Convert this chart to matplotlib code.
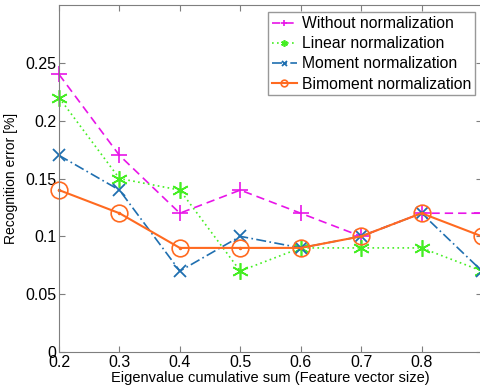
import matplotlib
matplotlib.use("Agg")
import matplotlib.pyplot as plt

plt.rcParams['font.family'] = ['Liberation Sans', 'DejaVu Sans']

x = [0.2, 0.3, 0.4, 0.5, 0.6, 0.7, 0.8, 0.9]
without_norm = [0.24, 0.17, 0.12, 0.14, 0.12, 0.10, 0.12, 0.12]
linear_norm = [0.22, 0.15, 0.14, 0.07, 0.09, 0.09, 0.09, 0.07]
moment_norm = [0.17, 0.14, 0.07, 0.10, 0.09, 0.10, 0.12, 0.07]
bimoment_norm = [0.14, 0.12, 0.09, 0.09, 0.09, 0.10, 0.12, 0.10]
labels = ["Without normalization", "Linear normalization",
          "Moment normalization", "Bimoment normalization"]
xticks = [0.2, 0.3, 0.4, 0.5, 0.6, 0.7, 0.8]
yticks = [0, 0.05, 0.1, 0.15, 0.2, 0.25]

fig = plt.figure(figsize=(4.81, 3.89), dpi=100)
ax = fig.add_axes([0.1227, 0.0951, 0.8773 + 0.002, 0.892])

ax.plot(x, without_norm, color='#e815e8', ls=(0, (5, 3)), lw=1.2,
        marker='+', ms=12, mew=1.2, label=labels[0], clip_on=False)
ax.plot(x, linear_norm, color='#44ee22', ls=(0, (1, 2)), lw=1.2,
        marker=(6, 2, 0), ms=12, mew=1.2, label=labels[1], clip_on=False)
ax.plot(x, moment_norm, color='#1f6fb0', ls=(0, (6, 2, 1, 2)), lw=1.2,
        marker='x', ms=9, mew=1.3, label=labels[2], clip_on=False)
ax.plot(x, bimoment_norm, color='#ff6a20', ls='-', lw=1.5,
        marker='o', ms=12, mfc='none', mew=1.2, label=labels[3], clip_on=False)
ax.plot(x, bimoment_norm, color='#ff6a20', ls='none', marker='.', ms=3,
        clip_on=False)

ax.set_xlim(0.2, 0.9)
ax.set_ylim(0, 0.3)
ax.set_xticks(xticks)
ax.set_yticks(yticks)
ax.set_xticklabels([str(t) for t in xticks])
ax.set_yticklabels(['0', '0.05', '0.1', '0.15', '0.2', '0.25'])
ax.tick_params(direction='in', length=4, labelsize=11.5, colors='#7f7f7f',
               labelcolor='black', top=True, right=True, pad=2)
for s in ax.spines.values():
    s.set_color('#7f7f7f')
ax.set_xlabel("Eigenvalue cumulative sum (Feature vector size)", fontsize=10.5, labelpad=1)
ax.set_ylabel("Recognition error [%]", fontsize=10, labelpad=5)

leg = ax.legend(loc='upper right', fontsize=11.3, frameon=True, fancybox=False,
                borderpad=0.25, labelspacing=0.33, handlelength=1.6,
                handletextpad=0.3, borderaxespad=0.45, markerscale=0.4)
leg.get_frame().set_edgecolor('#7f7f7f')
leg.get_frame().set_linewidth(1.0)

fig.savefig("out.png", dpi=100)
